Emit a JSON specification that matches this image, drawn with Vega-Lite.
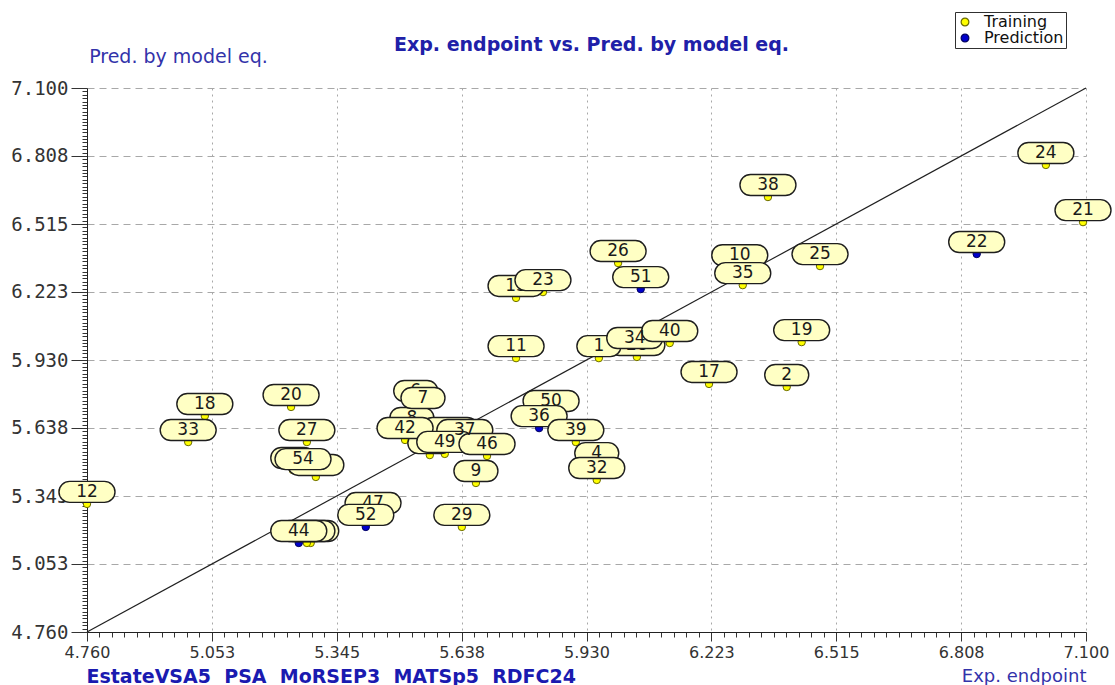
{
  "$schema": "https://vega.github.io/schema/vega-lite/v6.json",
  "width": 999,
  "height": 544,
  "autosize": {"type": "none"},
  "padding": {"left": 87, "top": 88, "right": 29, "bottom": 53},
  "background": "white",
  "config": {"view": {"stroke": null}},
  "title": {"text": "Exp. endpoint vs. Pred. by model eq.", "font": "DejaVu Sans", "fontSize": 19, "fontWeight": "bold", "color": "#2020a8", "anchor": "middle", "offset": 0, "dy": 43, "dx": 5},
  "datasets": {
    "diag": [{"exp": 4.76, "pred": 4.76}, {"exp": 7.1, "pred": 7.1}],
    "pts": [
      {"id": 12, "exp": 4.760, "pred": 5.311, "set": "Training"},
      {"id": 33, "exp": 4.997, "pred": 5.577, "set": "Training"},
      {"id": 18, "exp": 5.036, "pred": 5.689, "set": "Training"},
      {"id": 20, "exp": 5.238, "pred": 5.728, "set": "Training"},
      {"id": 27, "exp": 5.275, "pred": 5.577, "set": "Training"},
      {"id": 5, "exp": 5.242, "pred": 5.457, "set": "Training"},
      {"id": 14, "exp": 5.296, "pred": 5.427, "set": "Training"},
      {"id": 54, "exp": 5.266, "pred": 5.452, "set": "Training"},
      {"id": 48, "exp": 5.284, "pred": 5.143, "set": "Training"},
      {"id": 45, "exp": 5.275, "pred": 5.143, "set": "Training"},
      {"id": 44, "exp": 5.256, "pred": 5.143, "set": "Prediction"},
      {"id": 47, "exp": 5.430, "pred": 5.263, "set": "Training"},
      {"id": 52, "exp": 5.413, "pred": 5.212, "set": "Prediction"},
      {"id": 29, "exp": 5.638, "pred": 5.212, "set": "Training"},
      {"id": 9, "exp": 5.671, "pred": 5.401, "set": "Training"},
      {"id": 6, "exp": 5.530, "pred": 5.745, "set": "Training"},
      {"id": 7, "exp": 5.547, "pred": 5.715, "set": "Prediction"},
      {"id": 8, "exp": 5.521, "pred": 5.629, "set": "Training"},
      {"id": 3, "exp": 5.563, "pred": 5.521, "set": "Training"},
      {"id": 41, "exp": 5.610, "pred": 5.586, "set": "Training"},
      {"id": 42, "exp": 5.505, "pred": 5.586, "set": "Training"},
      {"id": 37, "exp": 5.645, "pred": 5.577, "set": "Training"},
      {"id": 49, "exp": 5.598, "pred": 5.526, "set": "Training"},
      {"id": 46, "exp": 5.697, "pred": 5.517, "set": "Training"},
      {"id": 50, "exp": 5.847, "pred": 5.702, "set": "Training"},
      {"id": 36, "exp": 5.819, "pred": 5.637, "set": "Prediction"},
      {"id": 39, "exp": 5.905, "pred": 5.577, "set": "Training"},
      {"id": 4, "exp": 5.954, "pred": 5.478, "set": "Training"},
      {"id": 32, "exp": 5.954, "pred": 5.414, "set": "Training"},
      {"id": 11, "exp": 5.765, "pred": 5.938, "set": "Training"},
      {"id": 1, "exp": 5.959, "pred": 5.938, "set": "Training"},
      {"id": 28, "exp": 6.048, "pred": 5.943, "set": "Training"},
      {"id": 34, "exp": 6.043, "pred": 5.973, "set": "Training"},
      {"id": 40, "exp": 6.125, "pred": 6.003, "set": "Training"},
      {"id": 17, "exp": 6.217, "pred": 5.827, "set": "Training"},
      {"id": 2, "exp": 6.399, "pred": 5.814, "set": "Training"},
      {"id": 19, "exp": 6.434, "pred": 6.007, "set": "Training"},
      {"id": 13, "exp": 5.765, "pred": 6.197, "set": "Training"},
      {"id": 23, "exp": 5.828, "pred": 6.222, "set": "Training"},
      {"id": 26, "exp": 6.004, "pred": 6.347, "set": "Training"},
      {"id": 51, "exp": 6.057, "pred": 6.235, "set": "Prediction"},
      {"id": 10, "exp": 6.289, "pred": 6.329, "set": "Training"},
      {"id": 35, "exp": 6.296, "pred": 6.252, "set": "Training"},
      {"id": 25, "exp": 6.477, "pred": 6.334, "set": "Training"},
      {"id": 38, "exp": 6.355, "pred": 6.631, "set": "Training"},
      {"id": 22, "exp": 6.844, "pred": 6.386, "set": "Prediction"},
      {"id": 24, "exp": 7.006, "pred": 6.769, "set": "Training"},
      {"id": 21, "exp": 7.093, "pred": 6.523, "set": "Training"}
    ]
  },
  "resolve": {"axis": {"x": "independent"}},
  "layer": [
    {
      "data": {"name": "diag"},
      "mark": {"type": "line", "color": "#202020", "strokeWidth": 1.2},
      "encoding": {
        "x": {"field": "exp", "type": "quantitative", "scale": {"domain": [4.76, 7.1], "nice": false, "zero": false},
          "axis": {"orient": "bottom", "title": "EstateVSA5\u00a0\u00a0PSA\u00a0\u00a0MoRSEP3\u00a0\u00a0MATSp5\u00a0\u00a0RDFC24", "labels": false, "ticks": false, "domain": false, "grid": false,
            "titleFont": "DejaVu Sans", "titleFontSize": 19, "titleFontWeight": "bold", "titleColor": "#1a1ab0", "titleAlign": "left", "titleAnchor": "start", "titleX": -1, "titleY": 44, "titleBaseline": "middle"}},
        "y": {"field": "pred", "type": "quantitative", "scale": {"domain": [4.76, 7.1], "nice": false, "zero": false},
          "axis": {
            "tickCount": 1000,
            "values": [4.76,4.774625,4.78925,4.803875,4.8185,4.833125,4.84775,4.862375,4.877,4.891625,4.90625,4.920875,4.9355,4.950125,4.96475,4.979375,4.994,5.008625,5.02325,5.037875,5.05251,5.067125,5.08175,5.096375,5.111,5.125625,5.14025,5.154875,5.1695,5.184125,5.19875,5.213375,5.228,5.242625,5.25725,5.271875,5.2865,5.301125,5.31575,5.330375,5.345,5.359625,5.37425,5.388875,5.4035,5.418125,5.43275,5.447375,5.462,5.476625,5.49125,5.505875,5.5205,5.535125,5.54975,5.564375,5.579,5.593625,5.60825,5.622875,5.63751,5.652125,5.66675,5.681375,5.696,5.710625,5.72525,5.739875,5.7545,5.769125,5.78375,5.798375,5.813,5.827625,5.84225,5.856875,5.8715,5.886125,5.90075,5.915375,5.93,5.944625,5.95925,5.973875,5.9885,6.003125,6.01775,6.032375,6.047,6.061625,6.07625,6.090875,6.1055,6.120125,6.13475,6.149375,6.164,6.178625,6.19325,6.207875,6.22251,6.237125,6.25175,6.266375,6.281,6.295625,6.31025,6.324875,6.3395,6.354125,6.36875,6.383375,6.398,6.412625,6.42725,6.441875,6.4565,6.471125,6.48575,6.500375,6.515,6.529625,6.54425,6.558875,6.5735,6.588125,6.60275,6.617375,6.632,6.646625,6.66125,6.675875,6.6905,6.705125,6.71975,6.734375,6.749,6.763625,6.77825,6.792875,6.80751,6.822125,6.83675,6.851375,6.866,6.880625,6.89525,6.909875,6.9245,6.939125,6.95375,6.968375,6.983,6.997625,7.01225,7.026875,7.0415,7.056125,7.07075,7.085375,7.1],
            "labelExpr": "abs((datum.value-4.76)/0.2925-round((datum.value-4.76)/0.2925))<0.01 ? format(datum.value, '.3f') : ''",
            "labelFont": "DejaVu Sans Mono", "labelFontSize": 19, "labelColor": "#333333", "labelPadding": 3, "labelBound": false, "labelOverlap": false,
            "tickSize": {"condition": {"test": "abs((datum.value-4.76)/0.2925-round((datum.value-4.76)/0.2925))<0.01", "value": 16}, "value": 5},
            "tickColor": "#333333",
            "domainColor": "#222222",
            "grid": true,
            "gridColor": "#a8a8a8",
            "gridDash": [7, 5],
            "gridOpacity": {"condition": {"test": "abs((datum.value-4.76)/0.2925-round((datum.value-4.76)/0.2925))<0.01", "value": 1}, "value": 0},
            "title": "Pred. by model eq.", "titleAngle": 0, "titleFont": "DejaVu Sans", "titleFontSize": 19, "titleFontWeight": "normal", "titleColor": "#3333aa",
            "titleX": 91, "titleY": -32, "titleAlign": "center", "titleBaseline": "middle"
          }}
      }
    },
    {
      "data": {"name": "pts"},
      "mark": {"type": "point", "filled": true, "shape": "circle", "size": 55, "strokeWidth": 1, "opacity": 1},
      "encoding": {
        "x": {"field": "exp", "type": "quantitative", "scale": {"domain": [4.76, 7.1], "nice": false, "zero": false},
          "axis": {
            "orient": "bottom",
            "tickCount": 1000,
            "values": [4.76,4.78925,4.8185,4.84775,4.877,4.90625,4.9355,4.96475,4.994,5.02325,5.05251,5.08175,5.111,5.14025,5.1695,5.19875,5.228,5.25725,5.2865,5.31575,5.345,5.37425,5.4035,5.43275,5.462,5.49125,5.5205,5.54975,5.579,5.60825,5.63751,5.66675,5.696,5.72525,5.7545,5.78375,5.813,5.84225,5.8715,5.90075,5.93,5.95925,5.9885,6.01775,6.047,6.07625,6.1055,6.13475,6.164,6.19325,6.22251,6.25175,6.281,6.31025,6.3395,6.36875,6.398,6.42725,6.4565,6.48575,6.515,6.54425,6.5735,6.60275,6.632,6.66125,6.6905,6.71975,6.749,6.77825,6.80751,6.83675,6.866,6.89525,6.9245,6.95375,6.983,7.01225,7.0415,7.07075,7.1],
            "labelExpr": "abs((datum.value-4.76)/0.2925-round((datum.value-4.76)/0.2925))<0.01 ? format(datum.value, '.3f') : ''",
            "labelFont": "DejaVu Sans", "labelFontSize": 16, "labelColor": "#333333", "labelPadding": 3, "labelBound": false, "labelOverlap": false, "labelFlush": false,
            "tickSize": {"condition": {"test": "abs((datum.value-4.76)/0.2925-round((datum.value-4.76)/0.2925))<0.01", "value": 9}, "value": 5},
            "tickColor": "#333333",
            "domainColor": "#222222",
            "grid": true,
            "gridColor": "#a8a8a8",
            "gridDash": [2, 4],
            "gridOpacity": {"condition": {"test": "abs((datum.value-4.76)/0.2925-round((datum.value-4.76)/0.2925))<0.01", "value": 1}, "value": 0},
            "title": "Exp. endpoint", "titleFont": "DejaVu Sans", "titleFontSize": 18, "titleFontWeight": "normal", "titleColor": "#3333aa",
            "titleX": 999, "titleY": 44, "titleAlign": "right", "titleAnchor": "end", "titleBaseline": "middle"
          }},
        "y": {"field": "pred", "type": "quantitative"},
        "fill": {"field": "set", "type": "nominal", "scale": {"domain": ["Training", "Prediction"], "range": ["#ffff00", "#0000cc"]},
          "legend": {"orient": "none", "legendX": 868, "legendY": -76, "title": null, "strokeColor": "#303030", "fillColor": "white", "padding": 2,
            "labelFont": "DejaVu Sans", "labelFontSize": 16, "labelColor": "#111111", "symbolSize": 60, "symbolType": "circle", "symbolStrokeColor": "#111111", "symbolStrokeWidth": 1.2, "rowPadding": 0, "labelOffset": 11}},
        "stroke": {"field": "set", "type": "nominal", "scale": {"domain": ["Training", "Prediction"], "range": ["#6a6a00", "#000060"]}, "legend": null}
      }
    },
    {
      "data": {"name": "pts"},
      "transform": [{"filter": {"field": "id", "oneOf": [3, 5, 6, 8, 13, 14, 28, 41, 45, 47, 48]}}],
      "mark": {"type": "point", "filled": true, "fill": "#ffffc4", "stroke": "#1e1e1e", "strokeWidth": 1.4, "opacity": 1, "yOffset": -12},
      "encoding": {
        "x": {"field": "exp", "type": "quantitative", "axis": null},
        "y": {"field": "pred", "type": "quantitative"},
        "shape": {"condition": {"test": "datum.id < 10", "value": "M-0.52,-0.477 L0.52,-0.477 A0.48,0.477 0 0 1 0.52,0.477 L-0.52,0.477 A0.48,0.477 0 0 1 -0.52,-0.477 Z"}, "value": "M-0.62,-0.375 L0.62,-0.375 A0.38,0.375 0 0 1 0.62,0.375 L-0.62,0.375 A0.38,0.375 0 0 1 -0.62,-0.375 Z"},
        "size": {"condition": {"test": "datum.id < 10", "value": 1936}, "value": 3136}
      }
    },
    {
      "data": {"name": "pts"},
      "transform": [{"filter": {"field": "id", "oneOf": [3, 5, 6, 8, 13, 14, 28, 41, 45, 47, 48]}}],
      "mark": {"type": "text", "font": "DejaVu Sans", "fontSize": 17, "color": "#1a1a1a", "baseline": "middle", "align": "center", "yOffset": -12},
      "encoding": {
        "x": {"field": "exp", "type": "quantitative", "axis": null},
        "y": {"field": "pred", "type": "quantitative"},
        "text": {"field": "id", "type": "nominal"}
      }
    },
    {
      "data": {"name": "pts"},
      "transform": [{"filter": {"not": {"field": "id", "oneOf": [3, 5, 6, 8, 13, 14, 28, 41, 45, 47, 48]}}}],
      "mark": {"type": "point", "filled": true, "fill": "#ffffc4", "stroke": "#1e1e1e", "strokeWidth": 1.4, "opacity": 1, "yOffset": -12},
      "encoding": {
        "x": {"field": "exp", "type": "quantitative", "axis": null},
        "y": {"field": "pred", "type": "quantitative"},
        "shape": {"condition": {"test": "datum.id < 10", "value": "M-0.52,-0.477 L0.52,-0.477 A0.48,0.477 0 0 1 0.52,0.477 L-0.52,0.477 A0.48,0.477 0 0 1 -0.52,-0.477 Z"}, "value": "M-0.62,-0.375 L0.62,-0.375 A0.38,0.375 0 0 1 0.62,0.375 L-0.62,0.375 A0.38,0.375 0 0 1 -0.62,-0.375 Z"},
        "size": {"condition": {"test": "datum.id < 10", "value": 1936}, "value": 3136}
      }
    },
    {
      "data": {"name": "pts"},
      "transform": [{"filter": {"not": {"field": "id", "oneOf": [3, 5, 6, 8, 13, 14, 28, 41, 45, 47, 48]}}}],
      "mark": {"type": "text", "font": "DejaVu Sans", "fontSize": 17, "color": "#1a1a1a", "baseline": "middle", "align": "center", "yOffset": -12},
      "encoding": {
        "x": {"field": "exp", "type": "quantitative", "axis": null},
        "y": {"field": "pred", "type": "quantitative"},
        "text": {"field": "id", "type": "nominal"}
      }
    }
  ]
}
